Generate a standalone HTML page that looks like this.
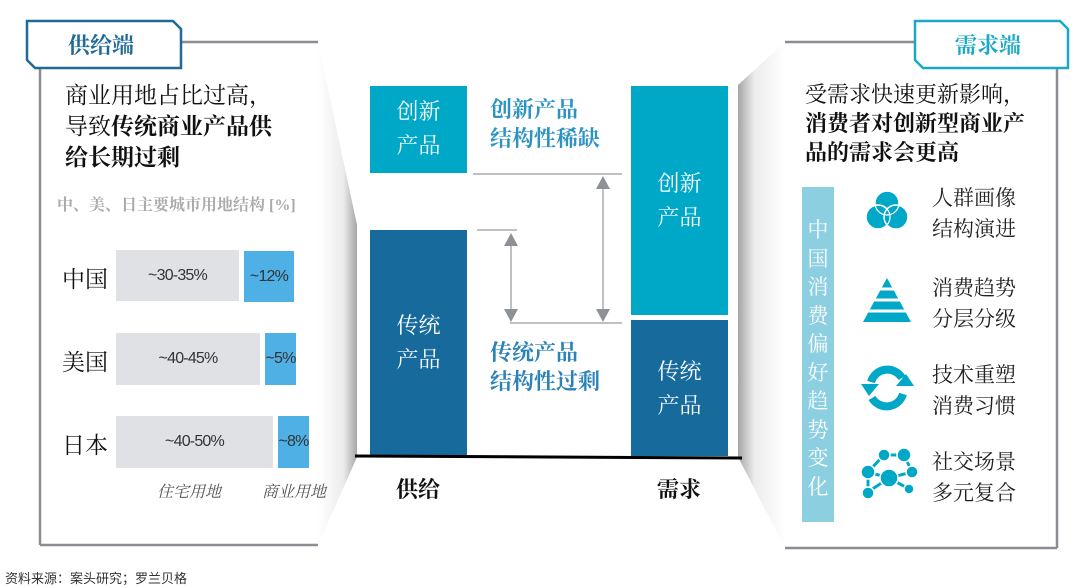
<!DOCTYPE html>
<html><head><meta charset="utf-8"><style>
*{margin:0;padding:0;box-sizing:border-box}
body{width:1080px;height:588px;background:#fff;position:relative;overflow:hidden;font-family:"Liberation Serif","Noto Serif CJK SC","Noto Sans CJK SC",serif;color:#111}
.a{position:absolute;white-space:nowrap}
.s{font-family:"Liberation Sans","Noto Sans CJK SC",sans-serif}
.bar{position:absolute;font-family:"Liberation Sans",sans-serif;font-size:16px;color:#333;display:flex;align-items:center;justify-content:center;letter-spacing:-0.8px}
.g{background:#e0e1e4}.b{background:#4fb0e6}
.box{position:absolute;color:#fff;font-size:22px;line-height:34px;text-align:center;display:flex;align-items:center;justify-content:center}
</style></head><body>
<svg width="1080" height="588" style="position:absolute;left:0;top:0">
<defs>
<linearGradient id="gl" x1="0" x2="1"><stop offset="0" stop-color="#fff"/><stop offset="0.65" stop-color="#ececec"/><stop offset="1" stop-color="#a5a5a5"/></linearGradient>
<linearGradient id="gr" x1="1" x2="0"><stop offset="0" stop-color="#fff"/><stop offset="0.65" stop-color="#ececec"/><stop offset="1" stop-color="#a5a5a5"/></linearGradient>
</defs>
<polygon points="318,42 357,225 357,457 318,545" fill="url(#gl)"/>
<polygon points="785,42 738,85 738,457 785,548" fill="url(#gr)"/>
<line x1="180" y1="42" x2="318" y2="42" stroke="#8a8d92" stroke-width="2.5"/>
<line x1="40" y1="68" x2="40" y2="545" stroke="#8a8d92" stroke-width="2.5"/>
<line x1="40" y1="545" x2="318" y2="545" stroke="#8a8d92" stroke-width="2.5"/>
<line x1="785" y1="42" x2="917" y2="42" stroke="#8a8d92" stroke-width="2.5"/>
<line x1="1057" y1="68" x2="1057" y2="548" stroke="#8a8d92" stroke-width="2.5"/>
<line x1="785" y1="548" x2="1057" y2="548" stroke="#8a8d92" stroke-width="2.5"/>
<polygon points="27,21 173,21 181,29 181,68 35,68 27,60" fill="#fff" stroke="#1f6a96" stroke-width="2.5"/>
<polygon points="915,21 1060,21 1068,29 1068,68 923,68 915,60" fill="#fff" stroke="#1aa9c4" stroke-width="2.5"/>
<rect x="370" y="86" width="97" height="87" fill="#00a8c8"/>
<rect x="370" y="230" width="97" height="226" fill="#176a9c"/>
<rect x="631" y="86" width="97" height="229" fill="#00a8c8"/>
<rect x="631" y="320" width="97" height="136" fill="#176a9c"/>
<line x1="355" y1="456" x2="742" y2="458" stroke="#000" stroke-width="3"/>
<g stroke="#a8abb0" stroke-width="1.5">
<line x1="473" y1="174" x2="622" y2="174"/><line x1="510" y1="323" x2="622" y2="323"/><line x1="477" y1="230" x2="517" y2="230"/>
<line x1="511" y1="244" x2="511" y2="310"/><line x1="603" y1="187" x2="603" y2="310"/></g>
<g fill="#8e9196"><polygon points="511,233 504,246 518,246"/><polygon points="511,322 504,309 518,309"/>
<polygon points="603,176 596,189 610,189"/><polygon points="603,322 596,309 610,309"/></g>
<rect x="802" y="187" width="32" height="335" fill="#8ccfe0"/>
<g fill="#00a8c8" stroke="#fff" stroke-width="1.5">
<circle cx="887" cy="203" r="12"/><circle cx="878" cy="217" r="12"/><circle cx="896" cy="217" r="12"/>
</g>
<g fill="none" stroke="#fff" stroke-width="1.2"><circle cx="887" cy="203" r="12"/><circle cx="878" cy="217" r="12"/></g>
<polygon points="887,278 863,322 911,322" fill="#00a8c8"/>
<g stroke="#fff" stroke-width="3"><line x1="860" y1="289" x2="915" y2="289"/><line x1="860" y1="300" x2="915" y2="300"/><line x1="860" y1="311" x2="915" y2="311"/></g>
<g fill="none" stroke="#00a8c8" stroke-width="8">
<path d="M871,382 A17,17 0 0 1 902,378"/><path d="M903,394 A17,17 0 0 1 872,398"/></g>
<polygon points="861,384 879,384 869,396" fill="#00a8c8"/><polygon points="896,386 914,386 906,374" fill="#00a8c8"/>
<g stroke="#00a8c8" stroke-width="3" fill="none"><path d="M868,472 L884,455 L904,455 L912,472 L889,478 L868,472 L868,492 L889,478 L909,489"/></g>
<g fill="#00a8c8" stroke="#fff" stroke-width="1.5">
<circle cx="884" cy="455" r="6"/><circle cx="904" cy="455" r="7"/><circle cx="868" cy="472" r="7"/><circle cx="912" cy="472" r="6"/><circle cx="889" cy="478" r="9"/><circle cx="868" cy="493" r="6"/><circle cx="909" cy="489" r="5"/></g>
</svg>
<div class="a" style="left:68px;top:29px;font-size:22px;font-weight:bold;color:#1f6a96">供给端</div>
<div class="a" style="left:955px;top:29px;font-size:22px;font-weight:bold;color:#1aa9c4">需求端</div>
<div class="a" style="left:65px;top:80px;font-size:23px;line-height:31px">商业用地占比过高，<br>导致<b>传统商业产品供</b><br><b>给长期过剩</b></div>
<div class="a" style="left:57px;top:192px;font-size:16px;color:#aaa;font-weight:bold">中、美、日主要城市用地结构 [%]</div>
<div class="a" style="left:62px;top:261px;font-size:23px">中国</div>
<div class="a" style="left:62px;top:344px;font-size:23px">美国</div>
<div class="a" style="left:62px;top:427px;font-size:23px">日本</div>
<div class="bar g" style="left:116px;top:250px;width:123px;height:51px">~30-35%</div>
<div class="bar b" style="left:244px;top:251px;width:50px;height:51px">~12%</div>
<div class="bar g" style="left:116px;top:333px;width:144px;height:52px">~40-45%</div>
<div class="bar b" style="left:265px;top:333px;width:31px;height:52px">~5%</div>
<div class="bar g" style="left:116px;top:416px;width:157px;height:52px">~40-50%</div>
<div class="bar b" style="left:278px;top:416px;width:31px;height:52px">~8%</div>
<div class="a" style="left:157px;top:479px;font-size:16px;font-style:italic;color:#555">住宅用地</div>
<div class="a" style="left:262px;top:479px;font-size:16px;font-style:italic;color:#555">商业用地</div>
<div class="box" style="left:370px;top:96px;width:97px;height:66px">创新<br>产品</div>
<div class="box" style="left:370px;top:310px;width:97px;height:66px">传统<br>产品</div>
<div class="box" style="left:631px;top:168px;width:97px;height:66px">创新<br>产品</div>
<div class="box" style="left:631px;top:356px;width:97px;height:66px">传统<br>产品</div>
<div class="a" style="left:490px;top:95px;font-size:22px;line-height:29px;font-weight:bold;color:#2d93c3">创新产品<br>结构性稀缺</div>
<div class="a" style="left:490px;top:338px;font-size:22px;line-height:29px;font-weight:bold;color:#2a82b8">传统产品<br>结构性过剩</div>
<div class="a" style="left:396px;top:473px;font-size:22px;font-weight:bold">供给</div>
<div class="a" style="left:657px;top:473px;font-size:22px;font-weight:bold">需求</div>
<div class="a" style="left:805px;top:80px;font-size:22px;line-height:29px">受需求快速更新影响，<br><b>消费者对创新型商业产</b><br><b>品的需求会更高</b></div>
<div class="a" style="left:806px;top:216px;width:24px;font-size:21px;line-height:28.5px;color:#fff;white-space:normal;text-align:center">中国消费偏好趋势变化</div>
<div class="a" style="left:932px;top:183px;font-size:21px;line-height:31px;color:#222">人群画像<br>结构演进</div>
<div class="a" style="left:932px;top:273px;font-size:21px;line-height:31px;color:#222">消费趋势<br>分层分级</div>
<div class="a" style="left:932px;top:360px;font-size:21px;line-height:31px;color:#222">技术重塑<br>消费习惯</div>
<div class="a" style="left:932px;top:447px;font-size:21px;line-height:31px;color:#222">社交场景<br>多元复合</div>
<div class="a s" style="left:5px;top:568px;font-size:13px;color:#333">资料来源：案头研究；罗兰贝格</div>
</body></html>
